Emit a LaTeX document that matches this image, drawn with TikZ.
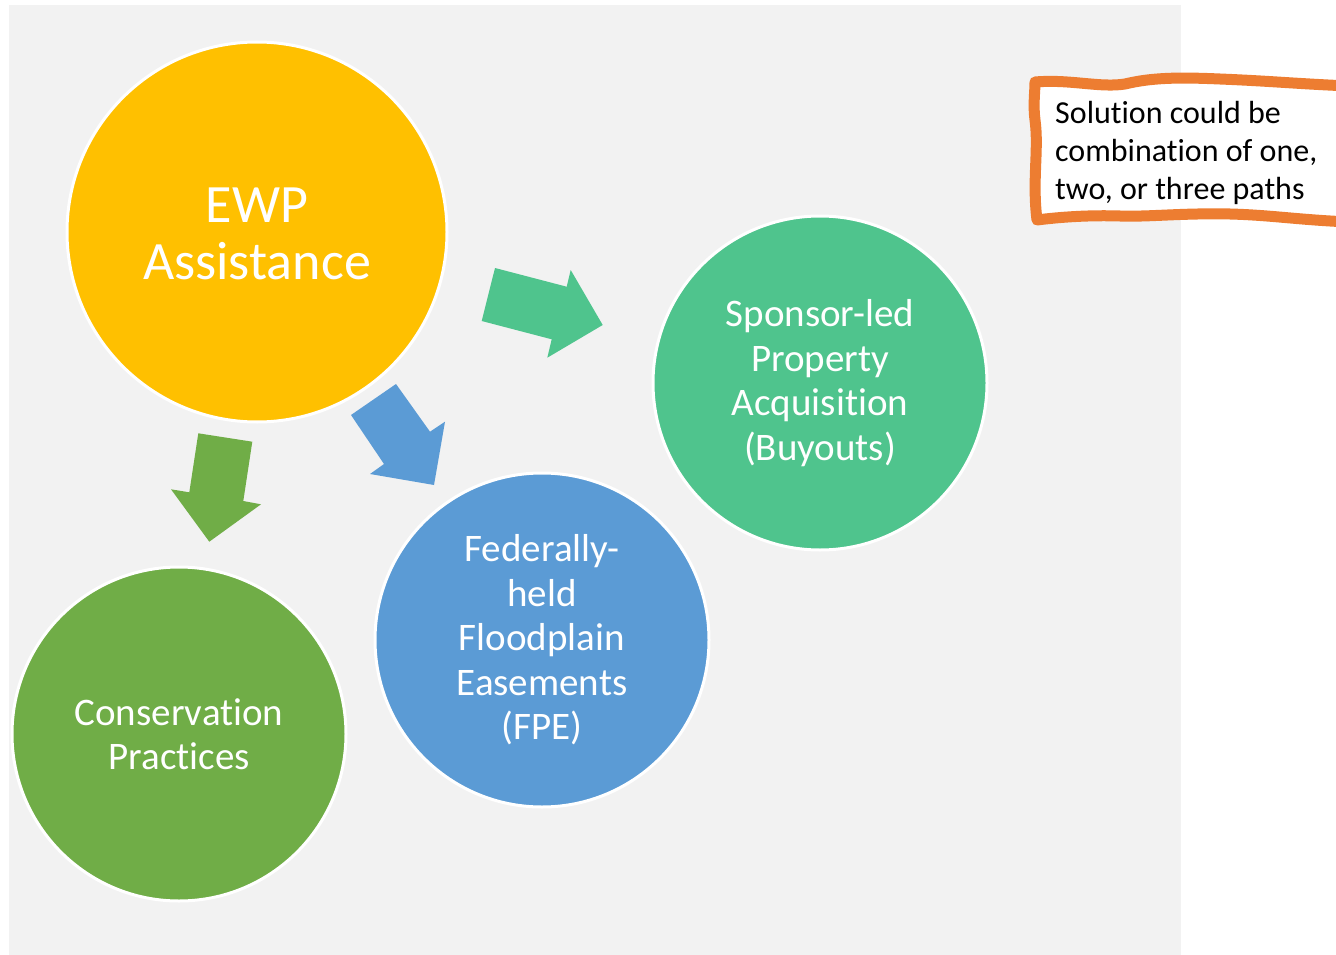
\documentclass[tikz,border=0pt]{standalone}
\usepackage{fontspec}
\setmainfont[RawFeature=-liga]{Carlito}
\definecolor{bggray}{HTML}{F2F2F2}
\definecolor{ewpyellow}{HTML}{FFC000}
\definecolor{teal}{HTML}{4FC48D}
\definecolor{fblue}{HTML}{5B9BD5}
\definecolor{cgreen}{HTML}{70AD47}
\definecolor{borange}{HTML}{ED7D31}
\begin{document}
\begin{tikzpicture}[x=1pt,y=-1pt,
  bubble/.style={circle, draw=white, line width=3pt, inner sep=0pt},
  bubbletext/.style={text=white, align=center, font=\fontsize{39}{44.5}\selectfont},
  bigarrow/.style={draw=none}]
\useasboundingbox (0,0) rectangle (1336,955);
\clip (0,0) rectangle (1336,955);
\fill[bggray] (9,5) rectangle (1181,955);
% circles
\node[bubble, fill=ewpyellow, minimum size=380pt] (ewp) at (257,232) {};
\node[bubble, fill=teal, minimum size=334pt] (spons) at (820,383) {};
\node[bubble, fill=fblue, minimum size=334pt] (fed) at (542,640) {};
\node[bubble, fill=cgreen, minimum size=334pt] (cons) at (179,734) {};
% texts
\node[text=white, align=center, font=\fontsize{54}{57}\selectfont] (ewpt) at ([yshift=-2pt]ewp.center) {EWP\\Assistance};
\node[bubbletext] (sponst) at (spons.center) {Sponsor-led\\Property\\Acquisition\\(Buyouts)};
\node[bubbletext] (fedt) at (fed.center) {Federally-\\held\\Floodplain\\Easements\\(FPE)};
\node[bubbletext] (const) at (cons.center) {Conservation\\Practices};
% arrows
\fill[teal] (495,268) -- (566.7,286.7) -- (570.7,270) -- (602.7,325) -- (547.3,357.7) -- (551.7,339.3) -- (481.7,321) -- cycle;
\fill[fblue] (396,384) -- (430,431.7) -- (445,421.7) -- (434,485) -- (370,474) -- (384,464) -- (351,415) -- cycle;
\fill[cgreen] (198.3,433.3) -- (252.3,441.7) -- (243.3,501) -- (261,504.3) -- (209.3,541.7) -- (171,489.3) -- (189.3,492.3) -- cycle;
% wavy note box
\filldraw[fill=white, draw=borange, line width=11pt, line join=round]
  (1035,82) .. controls (1070,79) and (1100,88) .. (1125,84)
  .. controls (1150,78) and (1175,77) .. (1220,79)
  .. controls (1270,81) and (1300,84) .. (1350,86)
  -- (1350,222)
  .. controls (1300,220) and (1270,215) .. (1230,214)
  .. controls (1180,213) and (1150,217) .. (1120,216)
  .. controls (1090,215) and (1060,217) .. (1037,220)
  .. controls (1032,180) and (1039,150) .. (1035,120)
  .. controls (1033,105) and (1035,92) .. cycle;
\node[anchor=base west, align=left, text=black, inner sep=0pt, font=\fontsize{32}{38}\selectfont] (note) at (1055,199) {Solution could be\\combination of one,\\two, or three paths};
\end{tikzpicture}
\end{document}
